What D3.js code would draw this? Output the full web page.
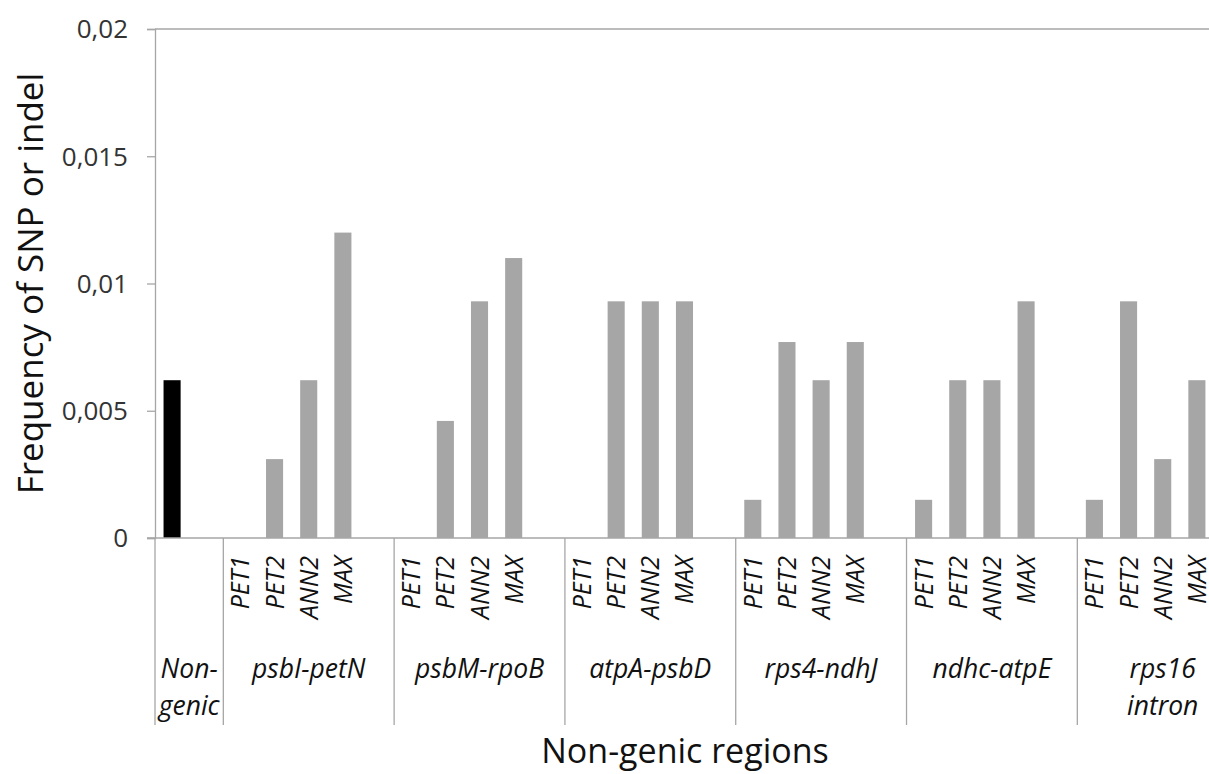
<!DOCTYPE html>
<html>
<head>
<meta charset="utf-8">
<script src="https://cdn.jsdelivr.net/npm/d3@7"></script>
<style>
  html, body { margin: 0; padding: 0; background: #fff; overflow: hidden; }
  svg { display: block; font-family: "Open Sans", "Noto Sans", sans-serif; }
</style>
</head>
<body>
<svg id="chart" width="1209" height="774"></svg>
<script>
// ---- data ----
const groups = ["Non-genic", "psbI-petN", "psbM-rpoB", "atpA-psbD", "rps4-ndhJ", "ndhc-atpE", "rps16 intron"];
const groupLabelLines = [["Non-", "genic"], ["psbI-petN"], ["psbM-rpoB"], ["atpA-psbD"], ["rps4-ndhJ"], ["ndhc-atpE"], ["rps16", "intron"]];
const methods = ["PET1", "PET2", "ANN2", "MAX"];
const nonGenicValues = [0.0062];
const psbIpetN = [0, 0.0031, 0.0062, 0.0120];
const psbMrpoB = [0, 0.0046, 0.0093, 0.0110];
const atpApsbD = [0, 0.0093, 0.0093, 0.0093];
const rps4ndhJ = [0.0015, 0.0077, 0.0062, 0.0077];
const ndhcatpE = [0.0015, 0.0062, 0.0062, 0.0093];
const rps16intron = [0.0015, 0.0093, 0.0031, 0.0062];
const yTicks = [0, 0.005, 0.01, 0.015, 0.02];

const regionValues = [psbIpetN, psbMrpoB, atpApsbD, rps4ndhJ, ndhcatpE, rps16intron];

// ---- build category table ----
const cats = [];
cats.push({ key: "NG|bar", group: 0, label: "", value: nonGenicValues[0], color: "#000000" });
cats.push({ key: "NG|blank", group: 0, label: "", value: null });
regionValues.forEach((vals, gi) => {
  methods.forEach((m, mi) => {
    cats.push({ key: groups[gi + 1] + "|" + m, group: gi + 1, label: m, value: vals[mi], color: "#a6a6a6" });
  });
  cats.push({ key: groups[gi + 1] + "|blank", group: gi + 1, label: "", value: null });
});

// ---- layout ----
const svg = d3.select("#chart");
const mLeft = 155, mTop = 29, mBottom = 538;
const step = 34.16;
const mRight = mLeft + step * cats.length;

const x = d3.scaleBand()
  .domain(cats.map(d => d.key))
  .range([mLeft, mRight])
  .paddingInner(0.5)
  .paddingOuter(0.25);

const y = d3.scaleLinear().domain([0, 0.02]).range([mBottom, mTop]);

const locale = d3.formatLocale({ decimal: ",", thousands: ".", grouping: [3], currency: ["", ""] });
const fmt = locale.format("~g");

const axisColor = "#a6a6a6";
const textColor = "#333333";

// Y axis
const yAxis = d3.axisLeft(y).tickValues(yTicks).tickSize(8).tickFormat(fmt);
const yg = svg.append("g").attr("transform", `translate(${mLeft},0)`).call(yAxis);
yg.select(".domain").attr("stroke", axisColor).attr("stroke-width", 1.3);
yg.selectAll(".tick line").attr("stroke", axisColor).attr("stroke-width", 1.3);
yg.selectAll(".tick text").attr("fill", textColor).attr("font-size", 26).attr("x", -27).attr("dy", "0.34em").attr("font-family", "Open Sans, sans-serif");

// top line at 0,02
svg.append("line")
  .attr("x1", mLeft).attr("x2", mRight)
  .attr("y1", y(0.02)).attr("y2", y(0.02))
  .attr("stroke", axisColor).attr("stroke-width", 1.3);

// Bars
svg.append("g").selectAll("rect")
  .data(cats.filter(d => d.value !== null && d.value > 0))
  .join("rect")
  .attr("x", d => x(d.key))
  .attr("width", x.bandwidth())
  .attr("y", d => y(d.value))
  .attr("height", d => y(0) - y(d.value))
  .attr("fill", d => d.color);

// baseline
svg.append("line")
  .attr("x1", mLeft - 8).attr("x2", mRight)
  .attr("y1", y(0)).attr("y2", y(0))
  .attr("stroke", axisColor).attr("stroke-width", 1.3);

// category group separators
const sepBottom = 725;
const groupBounds = groups.map((g, gi) => {
  const keys = cats.filter(c => c.group === gi).map(c => c.key);
  const x0 = x(keys[0]) - x.step() * x.paddingInner() / 2;
  const x1 = x(keys[keys.length - 1]) + x.bandwidth() + x.step() * x.paddingInner() / 2;
  return { x0, x1 };
});
const sepXs = [groupBounds[0].x0].concat(groupBounds.map(b => b.x1));
svg.append("g").selectAll("line")
  .data(sepXs)
  .join("line")
  .attr("x1", d => d).attr("x2", d => d)
  .attr("y1", y(0)).attr("y2", sepBottom)
  .attr("stroke", axisColor).attr("stroke-width", 1.3);

// method labels (rotated)
svg.append("g").selectAll("text")
  .data(cats.filter(c => c.label))
  .join("text")
  .attr("transform", d => `translate(${x(d.key) + x.bandwidth() / 2 + 9},556) rotate(-90)`)
  .attr("text-anchor", "end")
  .attr("font-size", 25)
  .attr("font-style", "italic")
  .attr("fill", "#111")
  .text(d => d.label);

// group labels
groupBounds.forEach((b, gi) => {
  const lines = groupLabelLines[gi];
  const t = svg.append("text")
    .attr("x", (b.x0 + b.x1) / 2)
    .attr("y", 678)
    .attr("text-anchor", "middle")
    .attr("font-size", 26.5)
    .attr("font-style", "italic")
    .attr("fill", "#111");
  lines.forEach((ln, i) => {
    t.append("tspan").attr("x", (b.x0 + b.x1) / 2).attr("y", 678 + i * 37).text(ln);
  });
});

// axis titles
svg.append("text")
  .attr("transform", `translate(43,${(mTop + mBottom) / 2}) rotate(-90)`)
  .attr("text-anchor", "middle")
  .attr("font-size", 35)
  .attr("fill", "#111")
  .text("Frequency of SNP or indel");

svg.append("text")
  .attr("x", 685)
  .attr("y", 763)
  .attr("text-anchor", "middle")
  .attr("font-size", 34)
  .attr("fill", "#111")
  .text("Non-genic regions");
</script>
</body>
</html>
